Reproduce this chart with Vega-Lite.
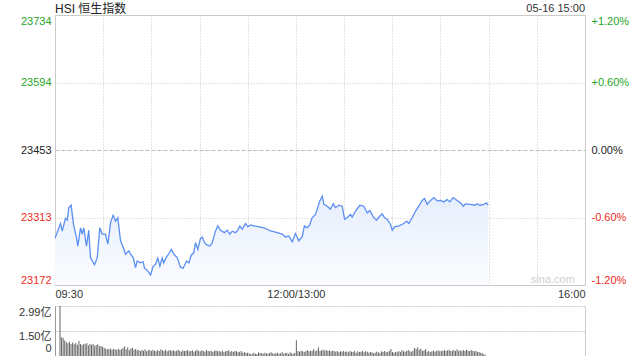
{
  "$schema": "https://vega.github.io/schema/vega-lite/v6.json",
  "background": "white",
  "padding": {"left": 18, "top": 2, "right": 0, "bottom": 0},
  "spacing": 21,
  "bounds": "flush",
  "config": {
    "view": {"stroke": null},
    "font": "Liberation Sans, Noto Sans CJK SC, sans-serif",
    "axis": {"labelFont": "Liberation Sans, Noto Sans CJK SC, sans-serif", "labelFontSize": 11, "labelColor": "#333", "titleFont": "Liberation Sans"},
    "text": {"font": "Liberation Sans, Noto Sans CJK SC, sans-serif"}
  },
  "datasets": {
    "px": [
      {"t":0,"v":23269},{"t":3.4,"v":23300},{"t":4.5,"v":23284},{"t":6.5,"v":23311},{"t":7.6,"v":23307},{"t":8.6,"v":23333},{"t":10.1,"v":23338},{"t":10.7,"v":23320},{"t":11.7,"v":23295},{"t":13.4,"v":23270},{"t":14.2,"v":23253},{"t":15.9,"v":23291},{"t":16.9,"v":23278},{"t":17.9,"v":23291},{"t":19.6,"v":23253},{"t":21,"v":23286},{"t":22.1,"v":23229},{"t":24.6,"v":23214},{"t":26.3,"v":23229},{"t":27.9,"v":23291},{"t":29.4,"v":23278},{"t":31.4,"v":23278},{"t":32.9,"v":23257},{"t":34.6,"v":23302},{"t":36.2,"v":23317},{"t":37.7,"v":23305},{"t":39.1,"v":23312},{"t":40.8,"v":23264},{"t":42.5,"v":23250},{"t":43.9,"v":23236},{"t":46,"v":23243},{"t":47,"v":23236},{"t":48.7,"v":23229},{"t":50.1,"v":23208},{"t":51.2,"v":23222},{"t":53.2,"v":23218},{"t":54.9,"v":23220},{"t":55.7,"v":23207},{"t":57.4,"v":23203},{"t":59.5,"v":23193},{"t":61.1,"v":23211},{"t":62.6,"v":23215},{"t":64,"v":23228},{"t":65.3,"v":23211},{"t":66.7,"v":23228},{"t":67.7,"v":23218},{"t":69.4,"v":23230},{"t":70.9,"v":23237},{"t":72.4,"v":23246},{"t":74,"v":23236},{"t":76.1,"v":23229},{"t":78.1,"v":23209},{"t":79.8,"v":23207},{"t":81.9,"v":23222},{"t":83.3,"v":23218},{"t":84.8,"v":23234},{"t":86.4,"v":23239},{"t":87.5,"v":23260},{"t":88.9,"v":23246},{"t":90.6,"v":23269},{"t":91.7,"v":23272},{"t":93.1,"v":23260},{"t":94.8,"v":23255},{"t":96.4,"v":23253},{"t":97.9,"v":23260},{"t":99.9,"v":23284},{"t":101.4,"v":23295},{"t":103,"v":23286},{"t":105.5,"v":23281},{"t":107.2,"v":23286},{"t":108.8,"v":23278},{"t":110.3,"v":23284},{"t":112.4,"v":23281},{"t":113.8,"v":23286},{"t":115.1,"v":23295},{"t":116.6,"v":23288},{"t":118.6,"v":23300},{"t":120,"v":23293},{"t":121.7,"v":23297},{"t":123.8,"v":23295},{"t":126.9,"v":23293},{"t":130,"v":23291},{"t":132.1,"v":23288},{"t":134.6,"v":23284},{"t":136.2,"v":23283},{"t":138.3,"v":23281},{"t":141.5,"v":23278},{"t":143.5,"v":23272},{"t":145.6,"v":23274},{"t":147.7,"v":23262},{"t":149.7,"v":23279},{"t":151.8,"v":23264},{"t":153.9,"v":23272},{"t":155.3,"v":23295},{"t":157,"v":23291},{"t":158.6,"v":23297},{"t":160.1,"v":23312},{"t":162.2,"v":23319},{"t":164.9,"v":23347},{"t":166.4,"v":23357},{"t":167.4,"v":23340},{"t":169.5,"v":23336},{"t":171.5,"v":23330},{"t":173.2,"v":23341},{"t":174.7,"v":23333},{"t":176.7,"v":23338},{"t":178.8,"v":23336},{"t":180.3,"v":23309},{"t":181.9,"v":23312},{"t":184,"v":23319},{"t":185,"v":23313},{"t":187.1,"v":23326},{"t":189.8,"v":23338},{"t":192.3,"v":23336},{"t":194.4,"v":23322},{"t":196,"v":23327},{"t":198.5,"v":23312},{"t":200.2,"v":23307},{"t":201.6,"v":23313},{"t":203.7,"v":23320},{"t":205.2,"v":23312},{"t":206.8,"v":23309},{"t":208.9,"v":23298},{"t":210,"v":23286},{"t":211.4,"v":23293},{"t":214.1,"v":23295},{"t":217.2,"v":23300},{"t":218.9,"v":23305},{"t":220.3,"v":23300},{"t":222.4,"v":23312},{"t":224.5,"v":23326},{"t":226.5,"v":23336},{"t":228.6,"v":23348},{"t":230.1,"v":23352},{"t":231.7,"v":23340},{"t":233.8,"v":23348},{"t":235.9,"v":23354},{"t":238,"v":23347},{"t":240,"v":23348},{"t":242.1,"v":23345},{"t":244.2,"v":23350},{"t":245.8,"v":23345},{"t":247.9,"v":23354},{"t":250.4,"v":23348},{"t":252.5,"v":23343},{"t":254.2,"v":23336},{"t":255.6,"v":23341},{"t":258.7,"v":23340},{"t":261.2,"v":23338},{"t":262.9,"v":23341},{"t":264.5,"v":23338},{"t":267,"v":23340},{"t":268.7,"v":23343},{"t":269.7,"v":23338}
    ],
    "vol": [
      {"t":0,"v":2.99},{"t":1,"v":1.12},{"t":2,"v":1.08},{"t":3,"v":0.92},{"t":4,"v":0.82},{"t":5,"v":0.76},{"t":6,"v":0.85},{"t":7,"v":0.72},{"t":8,"v":0.8},{"t":9,"v":0.7},
      {"t":10,"v":0.78},{"t":11,"v":0.68},{"t":12,"v":0.9},{"t":13,"v":0.72},{"t":14,"v":0.66},{"t":15,"v":0.74},{"t":16,"v":0.7},{"t":17,"v":0.78},{"t":18,"v":0.65},{"t":19,"v":0.72},
      {"t":20,"v":0.68},{"t":21,"v":0.74},{"t":22,"v":0.62},{"t":23,"v":0.66},{"t":24,"v":0.7},{"t":25,"v":0.58},{"t":26,"v":0.6},{"t":27,"v":0.55},{"t":28,"v":0.48},{"t":29,"v":0.44},
      {"t":30,"v":0.42},{"t":31,"v":0.4},{"t":32,"v":0.45},{"t":33,"v":0.38},{"t":34,"v":0.42},{"t":35,"v":0.4},{"t":36,"v":0.36},{"t":37,"v":0.44},{"t":38,"v":0.38},{"t":39,"v":0.4},
      {"t":40,"v":0.48},{"t":41,"v":0.58},{"t":42,"v":0.4},{"t":43,"v":0.52},{"t":44,"v":0.36},{"t":45,"v":0.45},{"t":46,"v":0.5},{"t":47,"v":0.38},{"t":48,"v":0.42},{"t":49,"v":0.34},
      {"t":50,"v":0.36},{"t":51,"v":0.3},{"t":52,"v":0.38},{"t":53,"v":0.32},{"t":54,"v":0.4},{"t":55,"v":0.28},{"t":56,"v":0.34},{"t":57,"v":0.36},{"t":58,"v":0.3},{"t":59,"v":0.38},
      {"t":60,"v":0.32},{"t":61,"v":0.28},{"t":62,"v":0.36},{"t":63,"v":0.3},{"t":64,"v":0.4},{"t":65,"v":0.34},{"t":66,"v":0.3},{"t":67,"v":0.38},{"t":68,"v":0.28},{"t":69,"v":0.33},
      {"t":70,"v":0.36},{"t":71,"v":0.3},{"t":72,"v":0.34},{"t":73,"v":0.28},{"t":74,"v":0.32},{"t":75,"v":0.38},{"t":76,"v":0.3},{"t":77,"v":0.26},{"t":78,"v":0.34},{"t":79,"v":0.3},
      {"t":80,"v":0.32},{"t":81,"v":0.36},{"t":82,"v":0.28},{"t":83,"v":0.3},{"t":84,"v":0.34},{"t":85,"v":0.26},{"t":86,"v":0.32},{"t":87,"v":0.38},{"t":88,"v":0.3},{"t":89,"v":0.28},
      {"t":90,"v":0.34},{"t":91,"v":0.3},{"t":92,"v":0.26},{"t":93,"v":0.36},{"t":94,"v":0.3},{"t":95,"v":0.28},{"t":96,"v":0.32},{"t":97,"v":0.24},{"t":98,"v":0.3},{"t":99,"v":0.34},
      {"t":100,"v":0.28},{"t":101,"v":0.3},{"t":102,"v":0.26},{"t":103,"v":0.32},{"t":104,"v":0.22},{"t":105,"v":0.28},{"t":106,"v":0.3},{"t":107,"v":0.34},{"t":108,"v":0.26},{"t":109,"v":0.3},
      {"t":110,"v":0.24},{"t":111,"v":0.3},{"t":112,"v":0.28},{"t":113,"v":0.22},{"t":114,"v":0.26},{"t":115,"v":0.3},{"t":116,"v":0.2},{"t":117,"v":0.24},{"t":118,"v":0.18},{"t":119,"v":0.2},
      {"t":120,"v":0.16},{"t":121,"v":0.12},{"t":122,"v":0.14},{"t":123,"v":0.2},{"t":124,"v":0.14},{"t":125,"v":0.12},{"t":126,"v":0.22},{"t":127,"v":0.16},{"t":128,"v":0.18},{"t":129,"v":0.14},
      {"t":130,"v":0.2},{"t":131,"v":0.16},{"t":132,"v":0.14},{"t":133,"v":0.18},{"t":134,"v":0.22},{"t":135,"v":0.16},{"t":136,"v":0.12},{"t":137,"v":0.18},{"t":138,"v":0.2},{"t":139,"v":0.14},
      {"t":140,"v":0.16},{"t":141,"v":0.22},{"t":142,"v":0.14},{"t":143,"v":0.18},{"t":144,"v":0.2},{"t":145,"v":0.12},{"t":146,"v":0.22},{"t":147,"v":0.16},{"t":148,"v":0.14},{"t":149,"v":0.2},
      {"t":150,"v":0.94},{"t":151,"v":0.3},{"t":152,"v":0.26},{"t":153,"v":0.32},{"t":154,"v":0.28},{"t":155,"v":0.24},{"t":156,"v":0.3},{"t":157,"v":0.34},{"t":158,"v":0.28},{"t":159,"v":0.32},
      {"t":160,"v":0.3},{"t":161,"v":0.42},{"t":162,"v":0.28},{"t":163,"v":0.34},{"t":164,"v":0.52},{"t":165,"v":0.3},{"t":166,"v":0.34},{"t":167,"v":0.38},{"t":168,"v":0.32},{"t":169,"v":0.36},
      {"t":170,"v":0.3},{"t":171,"v":0.34},{"t":172,"v":0.28},{"t":173,"v":0.32},{"t":174,"v":0.3},{"t":175,"v":0.26},{"t":176,"v":0.3},{"t":177,"v":0.22},{"t":178,"v":0.28},{"t":179,"v":0.26},
      {"t":180,"v":0.3},{"t":181,"v":0.24},{"t":182,"v":0.28},{"t":183,"v":0.22},{"t":184,"v":0.3},{"t":185,"v":0.26},{"t":186,"v":0.24},{"t":187,"v":0.3},{"t":188,"v":0.2},{"t":189,"v":0.28},
      {"t":190,"v":0.24},{"t":191,"v":0.26},{"t":192,"v":0.3},{"t":193,"v":0.22},{"t":194,"v":0.28},{"t":195,"v":0.26},{"t":196,"v":0.2},{"t":197,"v":0.24},{"t":198,"v":0.22},{"t":199,"v":0.16},
      {"t":200,"v":0.2},{"t":201,"v":0.26},{"t":202,"v":0.22},{"t":203,"v":0.18},{"t":204,"v":0.28},{"t":205,"v":0.24},{"t":206,"v":0.3},{"t":207,"v":0.22},{"t":208,"v":0.26},{"t":209,"v":0.3},
      {"t":210,"v":0.42},{"t":211,"v":0.24},{"t":212,"v":0.2},{"t":213,"v":0.26},{"t":214,"v":0.22},{"t":215,"v":0.3},{"t":216,"v":0.24},{"t":217,"v":0.34},{"t":218,"v":0.28},{"t":219,"v":0.26},
      {"t":220,"v":0.3},{"t":221,"v":0.36},{"t":222,"v":0.28},{"t":223,"v":0.26},{"t":224,"v":0.32},{"t":225,"v":0.48},{"t":226,"v":0.42},{"t":227,"v":0.52},{"t":228,"v":0.38},{"t":229,"v":0.44},
      {"t":230,"v":0.3},{"t":231,"v":0.34},{"t":232,"v":0.4},{"t":233,"v":0.26},{"t":234,"v":0.3},{"t":235,"v":0.24},{"t":236,"v":0.28},{"t":237,"v":0.32},{"t":238,"v":0.26},{"t":239,"v":0.3},
      {"t":240,"v":0.34},{"t":241,"v":0.28},{"t":242,"v":0.32},{"t":243,"v":0.3},{"t":244,"v":0.36},{"t":245,"v":0.3},{"t":246,"v":0.34},{"t":247,"v":0.38},{"t":248,"v":0.3},{"t":249,"v":0.32},
      {"t":250,"v":0.36},{"t":251,"v":0.3},{"t":252,"v":0.4},{"t":253,"v":0.3},{"t":254,"v":0.34},{"t":255,"v":0.28},{"t":256,"v":0.36},{"t":257,"v":0.3},{"t":258,"v":0.38},{"t":259,"v":0.32},
      {"t":260,"v":0.3},{"t":261,"v":0.36},{"t":262,"v":0.32},{"t":263,"v":0.28},{"t":264,"v":0.3},{"t":265,"v":0.22},{"t":266,"v":0.24},{"t":267,"v":0.2},{"t":268,"v":0.16},{"t":269,"v":0.12},
      {"t":270,"v":0.05}
    ],
    "notes": [
      {"t":0,"v":23734,"label":"HSI 恒生指数"}
    ],
    "stamp": [
      {"t":330,"v":23734,"label":"05-16 15:00"}
    ],
    "mark": [
      {"t":310,"v":23182,"label":"sina.com"}
    ]
  },
  "vconcat": [
    {
      "width": 530,
      "height": 270,
      "view": {"stroke": "#cccccc"},
      "resolve": {"axis": {"y": "independent"}},
      "layer": [
        {
          "data": {"name": "px"},
          "mark": {"type": "area", "color": {"gradient": "linear", "x1": 0, "y1": 0, "x2": 0, "y2": 1, "stops": [{"offset": 0, "color": "#e6eefc"}, {"offset": 1, "color": "#fbfcff"}]}},
          "encoding": {
            "x": {"field": "t", "type": "quantitative", "scale": {"domain": [0, 330], "nice": false, "zero": false},
              "axis": {"values": [0, 30, 60, 90, 120, 150, 180, 210, 240, 270, 300, 330], "labelExpr": "datum.value == 0 ? '09:30' : datum.value == 150 ? '12:00/13:00' : datum.value == 330 ? '16:00' : ''", "labelFlush": true, "ticks": false, "domain": false, "grid": true, "gridColor": "#c6c6c6", "gridDash": [1, 2], "labelPadding": 3, "title": null}},
            "y": {"field": "v", "type": "quantitative", "scale": {"domain": [23172, 23734], "nice": false, "zero": false},
              "axis": {"orient": "left", "values": [23172, 23312.5, 23453, 23593.5, 23734], "format": ".0f", "labelFlush": true, "ticks": false, "domain": false, "labelPadding": 4, "title": null, "grid": true,
                "gridColor": {"condition": {"test": "datum.value == 23453", "value": "#bdbdbd"}, "value": "#c6c6c6"},
                "gridDash": {"condition": {"test": "datum.value == 23453", "value": [4, 2]}, "value": [1, 2]},
                "labelColor": {"condition": [{"test": "datum.value > 23460", "value": "#26a526"}, {"test": "datum.value < 23440", "value": "#ee2a24"}], "value": "#222222"}}},
            "y2": {"datum": 23172}
          }
        },
        {
          "data": {"name": "px"},
          "mark": {"type": "line", "color": "#5b8ff2", "strokeWidth": 1.3},
          "encoding": {
            "x": {"field": "t", "type": "quantitative"},
            "y": {"field": "v", "type": "quantitative",
              "axis": {"orient": "right", "values": [23172, 23312.5, 23453, 23593.5, 23734], "labelFlush": true, "ticks": false, "domain": false, "grid": false, "labelPadding": 6, "title": null,
                "labelExpr": "datum.value > 23460 ? '+' + format((datum.value - 23453) / 23453 * 100, '.2f') + '%' : datum.value < 23440 ? '-' + format((23453 - datum.value) / 23453 * 100, '.2f') + '%' : '0.00%'",
                "labelColor": {"condition": [{"test": "datum.value > 23460", "value": "#26a526"}, {"test": "datum.value < 23440", "value": "#ee2a24"}], "value": "#222222"}}}
          }
        },
        {
          "data": {"name": "notes"},
          "mark": {"type": "text", "align": "left", "baseline": "middle", "dy": -6, "fontSize": 12, "color": "#222222"},
          "encoding": {
            "x": {"field": "t", "type": "quantitative"},
            "y": {"field": "v", "type": "quantitative", "axis": null},
            "text": {"field": "label"}
          }
        },
        {
          "data": {"name": "stamp"},
          "mark": {"type": "text", "align": "right", "baseline": "middle", "dy": -6, "fontSize": 11, "color": "#333333"},
          "encoding": {
            "x": {"field": "t", "type": "quantitative"},
            "y": {"field": "v", "type": "quantitative", "axis": null},
            "text": {"field": "label"}
          }
        },
        {
          "data": {"name": "mark"},
          "mark": {"type": "text", "align": "center", "baseline": "middle", "fontSize": 11, "color": "#cfcfcf"},
          "encoding": {
            "x": {"field": "t", "type": "quantitative"},
            "y": {"field": "v", "type": "quantitative", "axis": null},
            "text": {"field": "label"}
          }
        }
      ]
    },
    {
      "width": 530,
      "height": 50,
      "data": {"name": "vol"},
      "resolve": {"axis": {"y": "independent"}},
      "layer": [
        {
          "mark": {"type": "bar", "size": 1, "color": "#666666"},
          "encoding": {
            "x": {"field": "t", "type": "quantitative", "scale": {"domain": [0, 330], "nice": false, "zero": false}, "axis": null},
            "y": {"field": "v", "type": "quantitative", "scale": {"domain": [0, 2.99], "nice": false},
              "axis": {"orient": "left", "values": [0, 1.5, 2.99], "labelExpr": "datum.value == 0 ? '0' : format(datum.value, '.2f') + '亿'", "labelFlush": false,
                "labelBaseline": {"condition": {"test": "datum.value == 0", "value": "bottom"}, "value": "top"},
                "labelOffset": {"condition": {"test": "datum.value == 0", "value": -3}, "value": 0},
                "ticks": false, "domain": true, "domainColor": "#999999", "labelPadding": 4, "title": null, "grid": true, "gridColor": "#cccccc", "gridDash": [2, 1]}}
          }
        },
        {
          "mark": {"type": "bar", "size": 1, "opacity": 0},
          "encoding": {
            "x": {"field": "t", "type": "quantitative"},
            "y": {"field": "v", "type": "quantitative",
              "axis": {"orient": "right", "labels": false, "ticks": false, "grid": false, "domain": true, "domainColor": "#cccccc", "title": null}}
          }
        }
      ]
    }
  ]
}
